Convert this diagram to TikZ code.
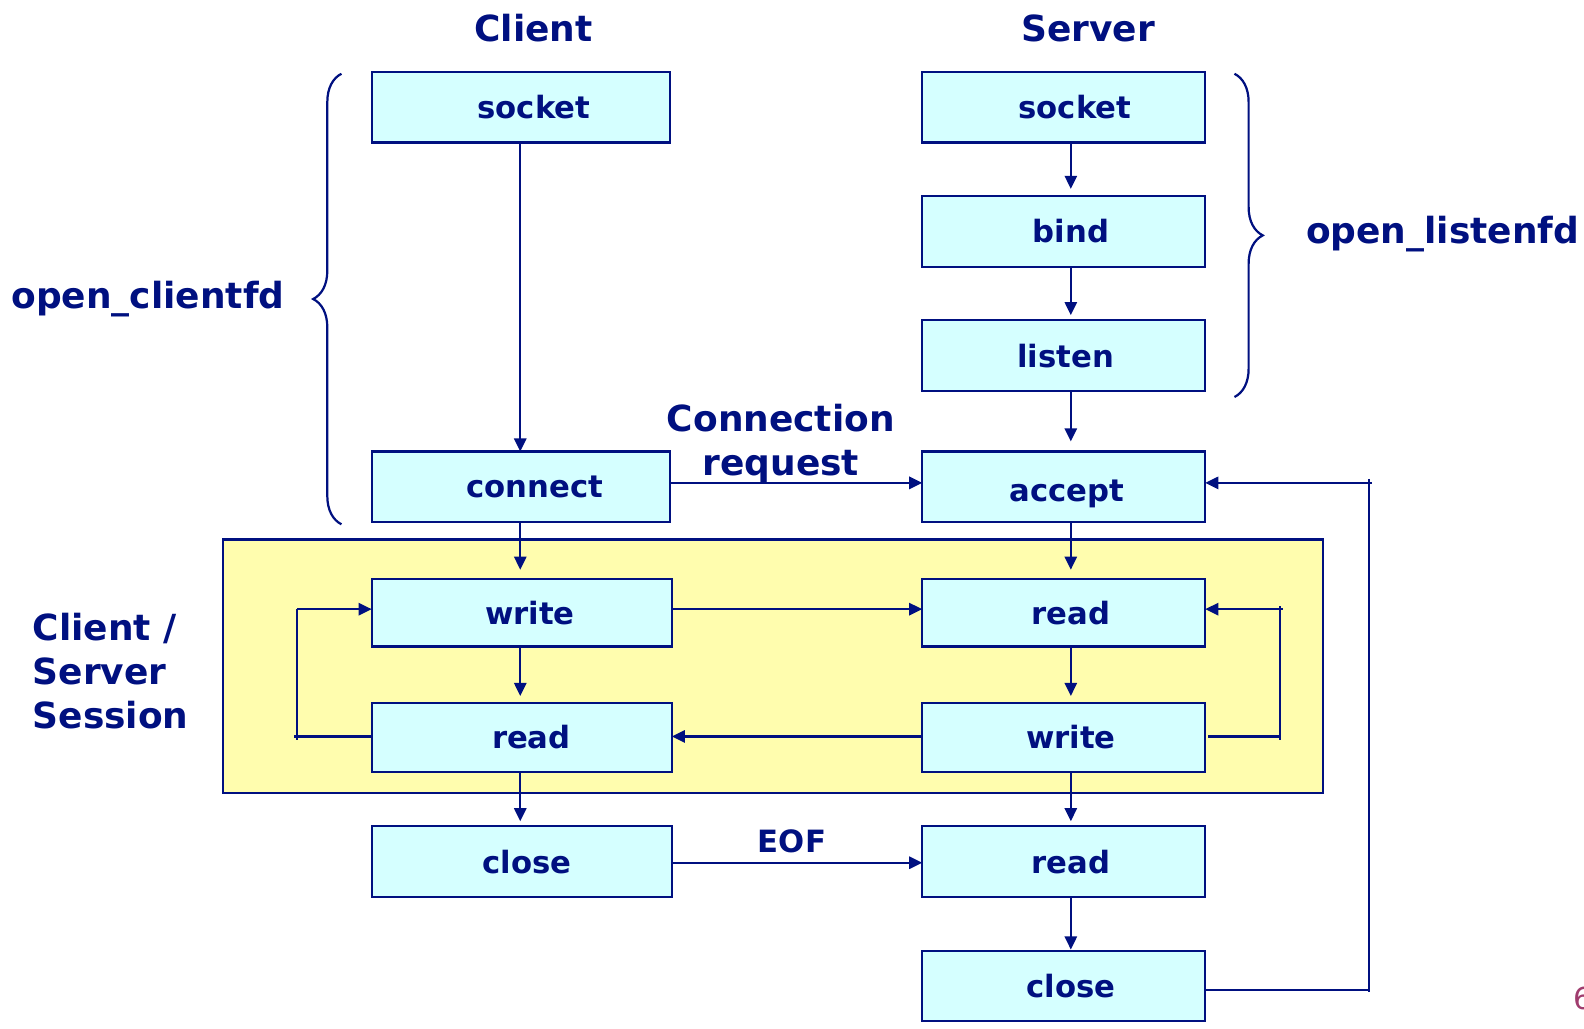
\documentclass[tikz,border=0pt]{standalone}
\usepackage{fontspec}
\setmainfont{DejaVu Sans}
\usetikzlibrary{arrows.meta,decorations.pathreplacing}
\definecolor{dnavy}{RGB}{0,16,128}
\definecolor{boxfill}{RGB}{213,255,255}
\definecolor{sessfill}{RGB}{255,253,174}
\definecolor{pnum}{RGB}{160,60,110}
\newlength\pxu
\setlength\pxu{0.5pt}
\newcommand\sh[1]{\hspace*{#1\pxu}}
\begin{document}
\begin{tikzpicture}[x=0.5pt,y=-0.5pt,
  cbox/.style={draw=dnavy,fill=boxfill,line width=1.1pt,minimum width=147.5pt,minimum height=35pt,
    inner sep=0pt,outer sep=0pt,text=dnavy,font=\fontsize{15.2}{18}\selectfont\bfseries},
  sbox/.style={cbox,minimum width=140pt},
  ttl/.style={text=dnavy,font=\fontsize{17.8}{21.8}\selectfont\bfseries,inner sep=0pt},
  lbl/.style={text=dnavy,font=\fontsize{15.2}{18}\selectfont\bfseries,inner sep=0pt},
  arr/.style={draw=dnavy,line width=1.2pt,-{Triangle[length=6.5pt,width=6pt]}},
  ln/.style={draw=dnavy,line width=1.2pt},
  brc/.style={draw=dnavy,line width=1.1pt,decorate,decoration={brace,amplitude=14pt}}]
\useasboundingbox (0,0) rectangle (1568,1018);

% session background
\filldraw[fill=sessfill,draw=dnavy,line width=1.1pt] (221,534) rectangle (1310,785);

% helper coordinates
\coordinate (sx) at (1060,0);
\coordinate (cx) at (515,0);

% client boxes
\node[cbox] (csock) at (515.5,106) {\sh{26}socket};
\node[cbox] (conn) at (515.5,482) {\sh{28}connect};
\node[cbox,minimum width=148.5pt,minimum height=33.5pt] (cwrite) at (516.5,606.5) {\sh{16}write};
\node[cbox,minimum width=148.5pt,minimum height=34pt] (cread) at (516.5,730) {\sh{19}read};
\node[cbox,minimum width=148.5pt] (cclose) at (516.5,853) {\sh{10}close};

% server boxes
\node[sbox] (ssock) at (1053,106) {\sh{22}socket};
\node[sbox] (bind) at (1053,229) {\sh{14}bind};
\node[sbox] (listen) at (1053,352) {\sh{4}listen};
\node[sbox] (accept) at (1053,482) {\sh{6}\raisebox{-3.5pt}[\height][\depth]{accept}};
\node[sbox,minimum height=33.5pt] (sread) at (1053,606.5) {\sh{14}read};
\node[sbox,minimum height=34pt] (swrite) at (1053,730) {\sh{14}write};
\node[sbox] (sread2) at (1053,853) {\sh{14}read};
\node[sbox] (sclose) at (1053,976) {\sh{14}close};

% titles and labels
\node[ttl] (tclient) at (528,28) {Client};
\node[ttl] (tserver) at (1077,28) {Server};
\node[ttl] (ocfd) at (146.5,296) {open\_clientfd};
\node[ttl] (olfd) at (1428,232) {open\_listenfd};
\node[ttl,align=left,anchor=west] (sess) at (32,664) {Client /\\Server\\Session};
\node[ttl,align=center] (creq) at (773,439) {Connection\\request};
\node[lbl] (eof) at (784,833) {EOF};
\node[text=pnum,font=\fontsize{15}{18}\selectfont,anchor=west,inner sep=0pt] (pg) at (1557,988) {6};

% braces
\draw[brc] (338,519) -- (338,73);
\draw[brc] (1222,73) -- (1222,393);

% client vertical arrows
\draw[arr] (csock.south -| cx) -- (conn.north -| cx);
\draw[arr,shorten >=4.5pt] (conn.south -| cx) -- (cwrite.north -| cx);
\draw[arr,shorten >=3.5pt] (cwrite.south -| cx) -- (cread.north -| cx);
\draw[arr,shorten >=2.5pt] (cread.south -| cx) -- (cclose.north -| cx);

% server vertical arrows
\draw[arr,shorten >=3.5pt] (ssock.south -| sx) -- (bind.north -| sx);
\draw[arr,shorten >=2.5pt] (bind.south -| sx) -- (listen.north -| sx);
\draw[arr,shorten >=5pt] (listen.south -| sx) -- (accept.north -| sx);
\draw[arr,shorten >=4.5pt] (accept.south -| sx) -- (sread.north -| sx);
\draw[arr,shorten >=3.5pt] (sread.south -| sx) -- (swrite.north -| sx);
\draw[arr,shorten >=2.5pt] (swrite.south -| sx) -- (sread2.north -| sx);
\draw[arr,shorten >=0.5pt] (sread2.south -| sx) -- (sclose.north -| sx);

% horizontal arrows
\coordinate (h1) at (0,478);
\coordinate (h2) at (0,603);
\coordinate (h3) at (0,729);
\coordinate (h4) at (0,854);
\draw[arr] (conn.east |- h1) -- (accept.west |- h1);
\draw[arr] (cwrite.east |- h2) -- (sread.west |- h2);
\draw[arr] (swrite.west |- h3) -- (cread.east |- h3);
\draw[arr] (cclose.east |- h4) -- (sread2.west |- h4);

% client loop
\coordinate (cl1) at (294,603);
\coordinate (cl2) at (294,729);
\draw[ln] (cread.west |- cl2) -- ([xshift=-1.5pt]cl2);
\draw[ln] (cl1) -- ([yshift=-2pt]cl2);
\draw[arr] (cl1) -- (cwrite.west |- cl1);

% server loop
\coordinate (sl1) at (1267,603);
\coordinate (sl2) at (1267,729);
\draw[ln] ([xshift=1.5pt]swrite.east |- sl2) -- (sl2);
\draw[ln] ([yshift=1.5pt]sl1) -- ([yshift=-2pt]sl2);
\draw[arr] ([xshift=1.5pt]sl1) -- (sread.east |- sl1);

% feedback loop close -> accept
\coordinate (fl1) at (1355,478);
\coordinate (fl2) at (1355,980);
\draw[ln] (sclose.east |- fl2) -- (fl2);
\draw[ln] ([yshift=2pt]fl1) -- ([yshift=-1pt]fl2);
\draw[arr] ([xshift=1.5pt]fl1) -- (accept.east |- fl1);
\end{tikzpicture}
\end{document}
